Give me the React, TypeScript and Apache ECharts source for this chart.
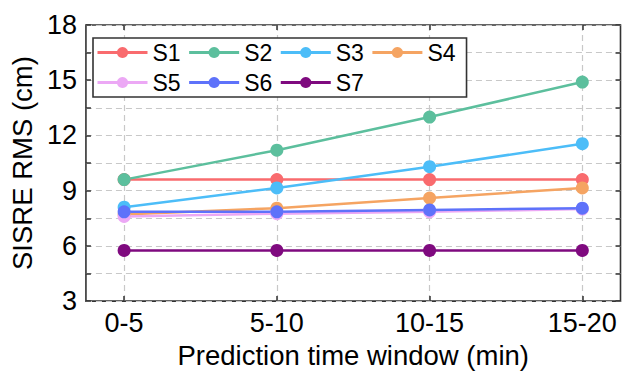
import React, { useEffect, useRef } from "react";
import * as echarts from "echarts";

const categories = ["0-5", "5-10", "10-15", "15-20"];
const seriesNames = ["S1", "S2", "S3", "S4", "S5", "S6", "S7"];
const s1 = [9.6, 9.6, 9.6, 9.6];
const s2 = [9.6, 11.2, 13.0, 14.9];
const s3 = [8.1, 9.15, 10.3, 11.55];
const s4 = [7.7, 8.05, 8.6, 9.15];
const s5 = [7.6, 7.75, 7.85, 8.0];
const s6 = [7.85, 7.85, 7.95, 8.05];
const s7 = [5.75, 5.75, 5.75, 5.75];
const seriesValues = [s1, s2, s3, s4, s5, s6, s7];
const colors = ["#f96b6e", "#5cbf9d", "#4cbdf8", "#f5a462", "#eca8f5", "#5e72fa", "#7f0a7f"];
const catIdx = [0, 1, 2, 3];

const FONT = "'Liberation Sans', Arial, sans-serif";

export default function App() {
  const ref = useRef<HTMLDivElement>(null);
  useEffect(() => {
    if (!ref.current) return;
    const chart = echarts.init(ref.current, null, { renderer: "svg" });
    const gridLine = { show: true, lineStyle: { color: "#c8c8c8", type: [6, 4], width: 1.2 } };
    const xCommon = {
      type: "value" as const,
      min: -0.25,
      max: 3.25,
      axisLine: { show: false, onZero: false },
    };
    const yCommon = {
      type: "value" as const,
      min: 3,
      max: 18,
      interval: 1.5,
      axisLine: { show: false, onZero: false },
    };
    chart.setOption({
      animation: false,
      textStyle: { fontFamily: FONT },
      grid: {
        left: 79,
        right: 1.5,
        top: 25,
        bottom: 65,
        show: true,
        borderColor: "#333",
        borderWidth: 1.6,
        backgroundColor: "transparent",
      },
      legend: {
        left: 93,
        top: 38,
        width: 372,
        itemWidth: 50,
        itemHeight: 14,
        itemGap: 7,
        padding: [3, 11, 3, 3],
        borderColor: "#333",
        borderWidth: 1.6,
        backgroundColor: "#fff",
        lineStyle: { width: 3 },
        textStyle: { fontSize: 23, color: "#000", fontFamily: FONT },
        data: seriesNames,
      },
      xAxis: [
        {
          ...xCommon,
          position: "bottom",
          name: "Prediction time window (min)",
          nameLocation: "middle",
          nameGap: 39,
          nameTextStyle: { fontSize: 27.5, color: "#000", fontFamily: FONT },
          axisTick: { show: true, inside: true, length: 5, customValues: catIdx, lineStyle: { color: "#333", width: 1.5 } },
          axisLabel: {
            customValues: catIdx,
            fontSize: 27,
            color: "#000",
            margin: 8,
            fontFamily: FONT,
            formatter: (v: number) => categories[Math.round(v)] ?? "",
          },
          splitLine: gridLine,
        },
        {
          ...xCommon,
          position: "top",
          axisTick: { show: true, inside: true, length: 5, customValues: catIdx, lineStyle: { color: "#333", width: 1.5 } },
          axisLabel: { show: false },
          splitLine: { show: false },
        },
      ],
      yAxis: [
        {
          ...yCommon,
          position: "left",
          name: "SISRE RMS (cm)",
          nameLocation: "middle",
          nameGap: 47,
          nameTextStyle: { fontSize: 27.5, color: "#000", fontFamily: FONT },
          axisTick: { show: true, inside: true, length: 5, lineStyle: { color: "#333", width: 1.5 } },
          axisLabel: {
            fontSize: 27,
            color: "#000",
            margin: 9,
            fontFamily: FONT,
            formatter: (v: number) => (Math.abs(v % 3) < 1e-6 ? String(v) : ""),
          },
          splitLine: gridLine,
        },
        {
          ...yCommon,
          position: "right",
          axisTick: { show: true, inside: true, length: 5, lineStyle: { color: "#333", width: 1.5 } },
          axisLabel: { show: false },
          splitLine: { show: false },
        },
      ],
      series: seriesNames.map((name, i) => ({
        name,
        type: "line",
        xAxisIndex: 0,
        yAxisIndex: 0,
        data: seriesValues[i].map((v, j) => [catIdx[j], v]),
        symbol: "circle",
        symbolSize: 13,
        itemStyle: { color: colors[i] },
        lineStyle: { color: colors[i], width: 2.5 },
      })),
    });
    return () => chart.dispose();
  }, []);
  return <div ref={ref} style={{ width: 622, height: 374, position: "absolute", left: 0, top: 0 }} />;
}
